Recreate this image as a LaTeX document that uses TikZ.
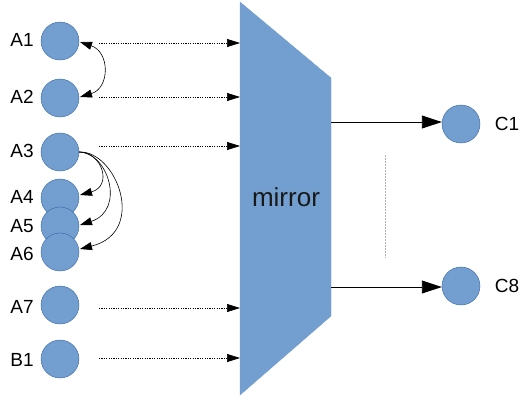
\documentclass[tikz,border=0pt]{standalone}
\usepackage{fontspec}
\setmainfont{Liberation Sans}
\usetikzlibrary{arrows.meta}
\definecolor{cfill}{HTML}{729FCF}
\definecolor{cdraw}{HTML}{3465A4}
\begin{document}
\begin{tikzpicture}[x=1pt,y=-1pt,
  dot/.style={circle,fill=cfill,draw=cdraw,line width=0.4pt,minimum size=38pt,inner sep=0pt},
  lab/.style={font=\fontsize{19}{22}\selectfont,inner sep=0pt},
  dotarrow/.style={dash pattern=on 1.2pt off 1.2pt,line width=0.7pt,-{Triangle[length=13pt,width=8pt]}},
  curvarrow/.style={line width=0.6pt,-{Triangle[length=12pt,width=8pt]}},
  outarrow/.style={line width=0.9pt,-{Triangle[length=20pt,width=13pt]}}]
\useasboundingbox (0,0) rectangle (528,400);
% mirror
\filldraw[fill=cfill,draw=cfill] (240,2) -- (331,78) -- (331,316) -- (240,395) -- cycle;
\node[font=\fontsize{26}{30}\selectfont,text=black!90] (mirror) at (286,197) {mirror};
% left nodes
\node[dot] (A1) at (60,41) {};
\node[dot] (A2) at (60,98) {};
\node[dot] (A3) at (60,152) {};
\node[dot] (A4) at (60,198) {};
\node[dot] (A5) at (60,226) {};
\node[dot] (A6) at (60,252) {};
\node[dot] (A7) at (60,305) {};
\node[dot] (B1) at (60,359) {};
\node[lab] (lA1) at (22,40) {A1};
\node[lab] (lA2) at (22,97) {A2};
\node[lab] (lA3) at (22,151) {A3};
\node[lab] (lA4) at (22,197) {A4};
\node[lab] (lA5) at (22,226) {A5};
\node[lab] (lA6) at (22,254) {A6};
\node[lab] (lA7) at (22,307) {A7};
\node[lab] (lB1) at (22,360) {B1};
% right nodes
\node[dot] (C1) at (461,124) {};
\node[dot] (C8) at (461,286) {};
\node[lab] (lC1) at (507,124) {C1};
\node[lab] (lC8) at (507,286) {C8};
% coordinates for dotted arrows
\foreach \n/\y in {1/43,2/97,3/146,7/308,8/358}{
  \coordinate (s\n) at (99,\y);
  \coordinate (e\n) at (240,\y);
  \draw[dotarrow] (s\n) -- (e\n);
}
% curved arrows
\coordinate (a1t) at (80,42);
\coordinate (a2t) at (80,97);
\draw[line width=0.6pt,{Triangle[length=12pt,width=8pt]}-{Triangle[length=12pt,width=8pt]}] (a1t) .. controls (110,52) and (110,88) .. (a2t);
\coordinate (a3s) at (79,152);
\coordinate (a4t) at (80,195);
\coordinate (a5t) at (80,225);
\coordinate (a6t) at (80,249);
\draw[curvarrow] (a3s) .. controls (102,152) and (113,186) .. (a4t);
\draw[curvarrow] (a3s) .. controls (108,152) and (126,210) .. (a5t);
\draw[curvarrow] (a3s) .. controls (116,150) and (148,232) .. (a6t);
% outputs
\coordinate (o1) at (331,122);
\coordinate (o8) at (331,287);
\draw[outarrow] (o1) -- (C1.west |- o1);
\draw[outarrow] (o8) -- (C8.west |- o8);
% gray dotted vertical
\coordinate (g1) at (385,155);
\coordinate (g2) at (385,258);
\draw[gray!60,dash pattern=on 1.5pt off 1.5pt,line width=1pt] (g1) -- (g2);
\end{tikzpicture}
\end{document}
